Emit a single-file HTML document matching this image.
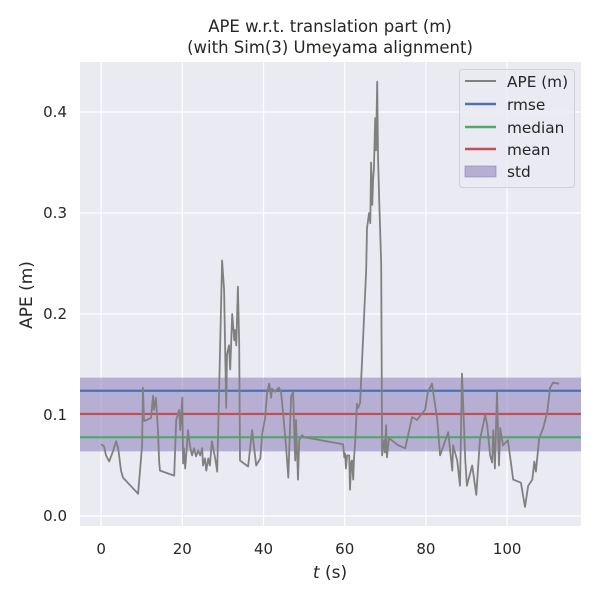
<!DOCTYPE html>
<html><head><meta charset="utf-8"><style>
body{margin:0;background:#fff;}
svg text{font-family:"DejaVu Sans","Liberation Sans",sans-serif;fill:#262626;}
</style></head><body>
<svg id="chart" width="600" height="600" viewBox="0 0 600 600">
<rect x="80" y="62" width="501" height="464" fill="#EAEAF2"/>
<g id="grid"></g>
<g id="stats"></g>
<g id="series"></g>
<g id="ticks"></g>
<text x="330" y="32" font-size="16.5" text-anchor="middle">APE w.r.t. translation part (m)</text>
<text x="330" y="53" font-size="16.5" text-anchor="middle">(with Sim(3) Umeyama alignment)</text>
<text x="330" y="578" font-size="17" text-anchor="middle"><tspan font-style="italic">t</tspan> (s)</text>
<text x="32" y="295" font-size="17" text-anchor="middle" transform="rotate(-90 32 295)">APE (m)</text>
<g>
<rect x="459.5" y="69.5" width="115" height="118" rx="3" fill="#EAEAF2" fill-opacity="0.8" stroke="#d0d0d8"/>
<line x1="465" y1="81" x2="496" y2="81" stroke="#808080" stroke-width="2"/>
<text x="507" y="87" font-size="15.3">APE (m)</text>
<line x1="465" y1="104" x2="496" y2="104" stroke="#4C72B0" stroke-width="2.5"/>
<text x="507" y="110" font-size="15.3">rmse</text>
<line x1="465" y1="127" x2="496" y2="127" stroke="#55A868" stroke-width="2.5"/>
<text x="507" y="133" font-size="15.3">median</text>
<line x1="465" y1="149" x2="496" y2="149" stroke="#C44E52" stroke-width="2.5"/>
<text x="507" y="155" font-size="15.3">mean</text>
<rect x="465" y="166" width="31" height="11" fill="#8172B3" fill-opacity="0.5" stroke="#8172B3" stroke-opacity="0.5"/>
<text x="507" y="177" font-size="15.3">std</text>
</g>
</svg>
<script>
const times=[0,0.7,1.2,2,3,3.7,4.2,4.9,5.4,9.1,10.1,10.3,10.6,12.3,12.8,13,13.5,14,14.3,14.5,18,18.5,19.2,19.5,20,20.2,20.4,20.7,21.4,21.9,22.4,22.9,23.4,23.9,24.4,24.9,25.1,25.6,25.9,26.4,26.8,27.3,28.1,28.6,29,29.8,30.3,30.8,31,31.5,31.8,32.3,32.8,33,33.3,33.7,34,34.2,36.2,37.2,37.7,38.2,39.2,39.7,40.4,40.9,41.4,41.9,42.1,42.9,43.3,43.8,44.3,44.8,45.6,46.1,46.8,47.3,47.8,48,48.5,48.8,49.5,50,59.6,59.9,60.1,60.3,60.6,61.1,61.3,61.6,61.8,62.1,62.3,62.6,63,63.3,63.8,64.5,65.3,65.5,66,66.3,66.5,66.8,67,67.2,67.5,67.7,68,68.2,68.5,69,69.2,69.7,69.9,70.2,70.4,70.9,73.2,74.9,76.6,77.8,79.1,79.8,80.5,81.5,82.8,83.5,85.5,86.5,86.7,87.7,88.4,88.9,89.7,90.1,91.4,92.4,93.3,94.6,95.1,95.8,96.3,96.6,97,97.5,97.8,98,98.3,99,100.2,101.5,103.4,104.4,105.2,106.2,106.7,107.1,107.9,108.9,109.9,110.6,111.3,112.8];
const apeValues=[.071,.069,.060,.054,.065,.074,.067,.045,.038,.022,.070,.127,.094,.097,.119,.105,.117,.084,.053,.045,.040,.095,.105,.085,.117,.052,.067,.047,.085,.069,.060,.067,.059,.065,.060,.067,.050,.057,.045,.057,.050,.074,.057,.044,.115,.253,.224,.107,.160,.169,.145,.200,.174,.184,.169,.227,.170,.055,.049,.085,.067,.050,.057,.082,.097,.123,.131,.117,.126,.123,.125,.127,.123,.103,.067,.038,.118,.123,.055,.095,.036,.075,.080,.078,.071,.058,.062,.047,.060,.060,.026,.053,.055,.036,.057,.075,.111,.107,.112,.174,.244,.285,.300,.290,.350,.308,.333,.343,.394,.362,.430,.357,.313,.249,.060,.075,.063,.090,.058,.077,.070,.067,.098,.095,.102,.105,.123,.131,.095,.060,.083,.045,.070,.055,.030,.141,.055,.030,.050,.021,.075,.100,.090,.060,.053,.085,.047,.123,.077,.050,.087,.070,.075,.036,.033,.009,.030,.036,.054,.044,.077,.087,.103,.127,.132,.131];
const statNames=['rmse','mean','median'];
const statValues=[0.124,0.101,0.078];
const stdBand=[0.064,0.137];
const xTicks=[0,20,40,60,80,100];
const yTicks=[0.0,0.1,0.2,0.3,0.4];
const yTickLabels=['0.0','0.1','0.2','0.3','0.4'];

const X0=80,X1=581,Y0=62,Y1=526,xmin=-5.2,xmax=118.2,ymin=-0.0099,ymax=0.4495;
const sx=t=>X0+(t-xmin)/(xmax-xmin)*(X1-X0);
const sy=v=>Y1-(v-ymin)/(ymax-ymin)*(Y1-Y0);
const NS='http://www.w3.org/2000/svg';
function mk(tag,attrs,parent){const e=document.createElementNS(NS,tag);for(const k in attrs)e.setAttribute(k,attrs[k]);document.getElementById(parent).appendChild(e);return e;}
xTicks.forEach(t=>{
 const l=mk('line',{x1:sx(t),x2:sx(t),y1:Y0,y2:Y1,stroke:'#fff','stroke-width':1.2},'grid');
 
 
 const tx=mk('text',{x:sx(t),y:554,'font-size':15,'text-anchor':'middle'},'ticks');
 tx.textContent=t;
 
 
});
yTicks.forEach((v,i)=>{
 const l=mk('line',{x1:X0,x2:X1,y1:sy(v),y2:sy(v),stroke:'#fff','stroke-width':1.2},'grid');
 
 
 const tx=mk('text',{x:67,y:sy(v)+5,'font-size':15,'text-anchor':'end'},'ticks');
 tx.textContent=yTickLabels[i];
 
 
});
const band=mk('rect',{x:X0,width:X1-X0,y:sy(stdBand[1]),height:sy(stdBand[0])-sy(stdBand[1]),fill:'#8172B3','fill-opacity':0.5},'stats');


const colors={rmse:'#4C72B0',mean:'#C44E52',median:'#55A868'};
statNames.forEach((n,i)=>{
 const l=mk('line',{x1:X0,x2:X1,y1:sy(statValues[i]),y2:sy(statValues[i]),stroke:colors[n],'stroke-width':2.2},'stats');
 
 
});
const pts=times.map((t,i)=>sx(t).toFixed(1)+','+sy(apeValues[i]).toFixed(1)).join(' ');
const pl=mk('polyline',{points:pts,fill:'none',stroke:'#808080','stroke-width':1.8,'stroke-linejoin':'round'},'series');


</script>
</body></html>
